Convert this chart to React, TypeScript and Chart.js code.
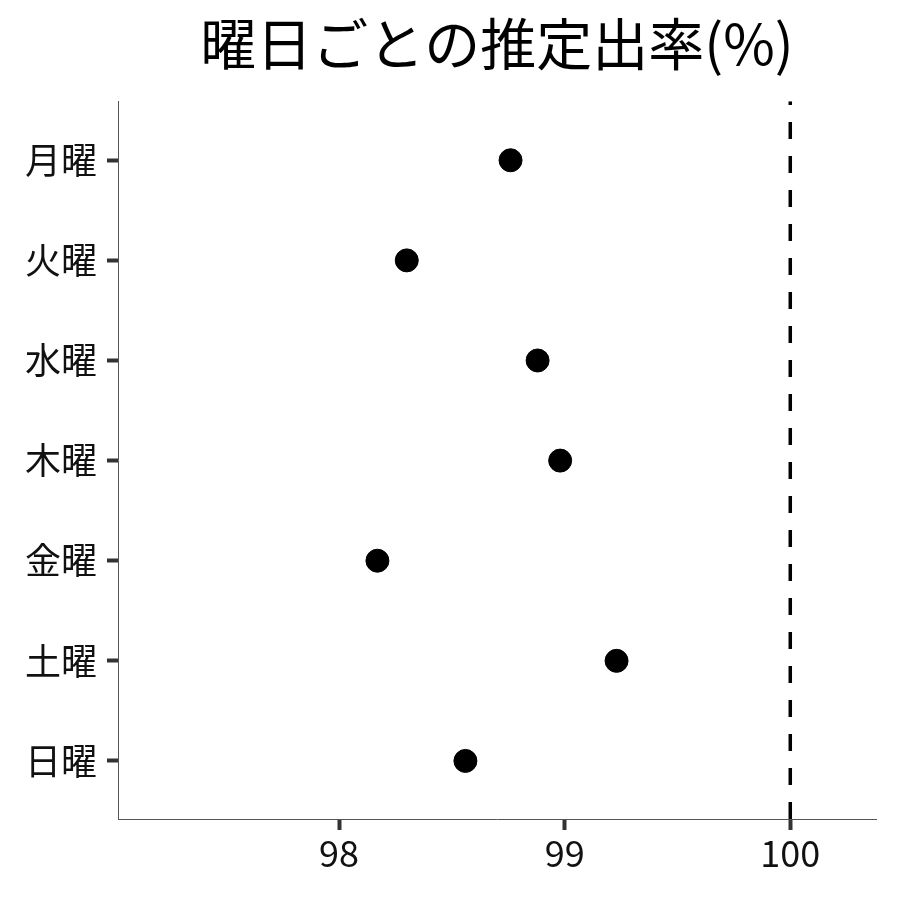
import { useRef, useEffect } from 'react';
import Chart from 'chart.js/auto';

// 曜日ごとの推定出率
const days = ['月曜', '火曜', '水曜', '木曜', '金曜', '土曜', '日曜'];
const rates = [98.76, 98.30, 98.88, 98.98, 98.17, 99.23, 98.56];
const xTicks = [98, 99, 100];
const refLine = 100;

const X_MIN = 97.02;
const X_MAX = 100.38;
const Y_MIN = -0.59;
const Y_MAX = 6.58;

export default function App() {
    const chartRef = useRef<HTMLCanvasElement>(null);

    useEffect(() => {
        document.body.style.margin = '0';
        if (!chartRef.current) return;

        Chart.defaults.font.family = '"Noto Sans CJK JP", "Noto Sans", sans-serif';
        Chart.defaults.color = '#000';

        const chart = new Chart(chartRef.current, {
            type: 'scatter',
            data: {
                datasets: [
                    {
                        label: '推定出率',
                        data: days.map((_, i) => ({ x: rates[i], y: i })),
                        backgroundColor: '#000',
                        borderColor: '#000',
                        pointRadius: 11.5,
                        pointHoverRadius: 11.5,
                    },
                    {
                        label: '100%',
                        data: [{ x: refLine, y: Y_MAX }, { x: refLine, y: Y_MIN }],
                        showLine: true,
                        borderColor: '#000',
                        borderWidth: 3.5,
                        borderDash: [17, 17],
                        pointRadius: 0,
                    },
                ],
            },
            options: {
                responsive: false,
                animation: false,
                plugins: {
                    legend: { display: false },
                    tooltip: { enabled: false },
                    title: {
                        display: true,
                        text: '曜日ごとの推定出率(%)',
                        fullSize: false,
                        color: '#000',
                        font: { size: 56, weight: 'normal', lineHeight: 1.2 },
                        padding: { top: 10, bottom: 24 },
                    },
                },
                layout: { padding: { right: 24 } },
                scales: {
                    x: {
                        type: 'linear',
                        min: X_MIN,
                        max: X_MAX,
                        afterBuildTicks: (scale: any) => {
                            scale.ticks = xTicks.map((v) => ({ value: v }));
                        },
                        afterFit: (scale: any) => {
                            scale.height = 81;
                        },
                        grid: {
                            drawOnChartArea: false,
                            tickLength: 11,
                            tickWidth: 4,
                            tickColor: '#333',
                        },
                        border: { color: '#555', width: 1 },
                        ticks: {
                            padding: 2,
                            font: { size: 36 },
                            color: '#111',
                            callback: (v: any) => String(v),
                        },
                    },
                    y: {
                        type: 'linear',
                        reverse: true,
                        min: Y_MIN,
                        max: Y_MAX,
                        afterBuildTicks: (scale: any) => {
                            scale.ticks = days.map((_, i) => ({ value: i }));
                        },
                        afterFit: (scale: any) => {
                            scale.width = 118;
                        },
                        grid: {
                            drawOnChartArea: false,
                            tickLength: 11,
                            tickWidth: 4,
                            tickColor: '#333',
                        },
                        border: { color: '#555', width: 1 },
                        ticks: {
                            padding: 10,
                            font: { size: 36 },
                            color: '#111',
                            callback: (v: any) => days[v] ?? '',
                        },
                    },
                },
            } as any,
        });

        return () => {
            chart.destroy();
        };
    }, []);

    return (
        <div style={{ width: 900, height: 900 }}>
            <canvas ref={chartRef} width={900} height={900}></canvas>
        </div>
    );
}
